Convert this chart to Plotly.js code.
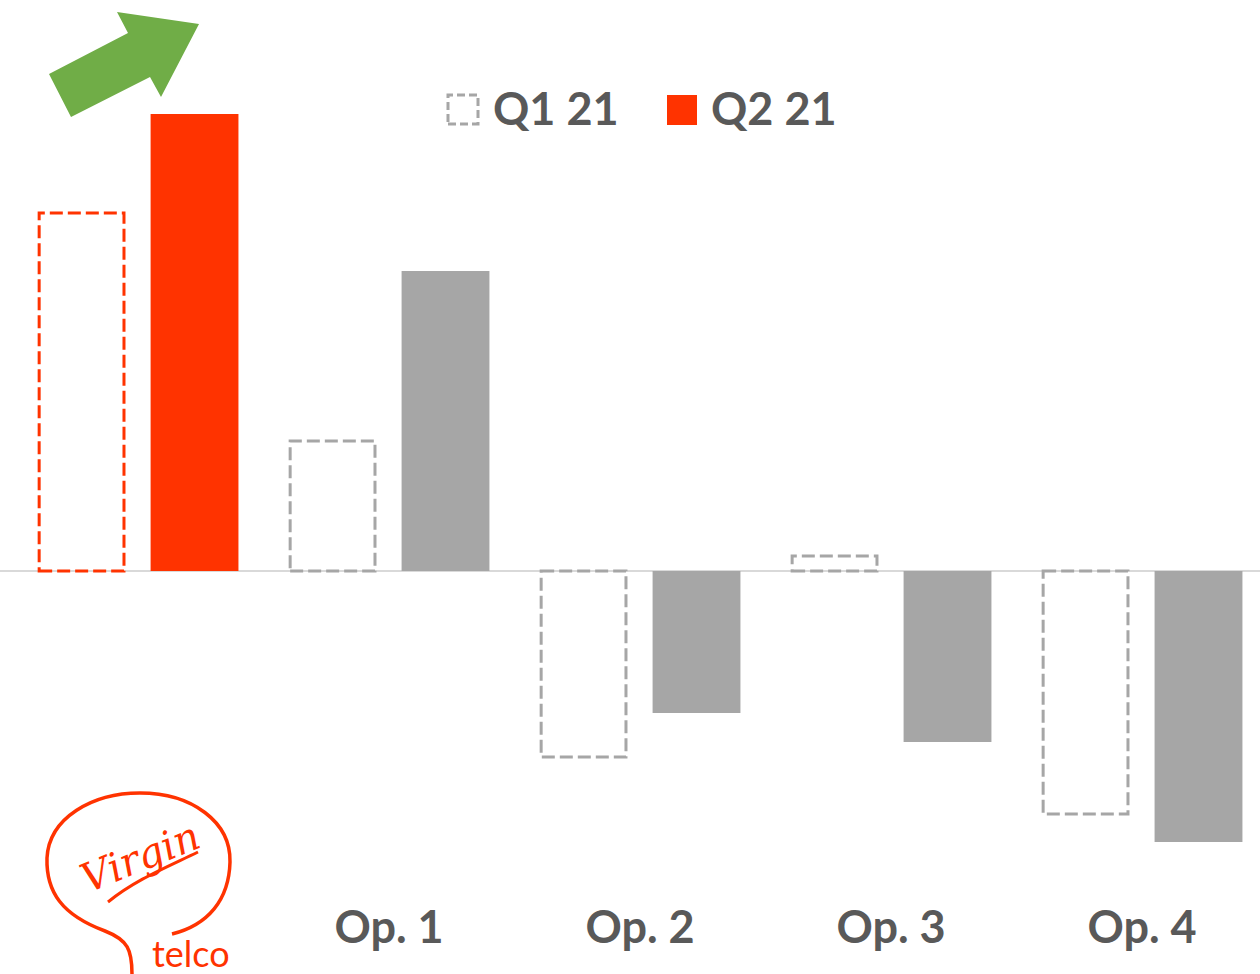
<!DOCTYPE html>
<html>
<head>
<meta charset="utf-8">
<script src="https://cdn.plot.ly/plotly-3.0.1.min.js"></script>
<style>
  html, body { margin: 0; padding: 0; background: #ffffff; }
  #chart { width: 1260px; height: 974px; }
</style>
</head>
<body>
<div id="chart"></div>
<script>
// ---- Data (arbitrary units) ----
const categories = ["Virgin telco", "Op. 1", "Op. 2", "Op. 3", "Op. 4"];
const tickLabels = ["", "Op. 1", "Op. 2", "Op. 3", "Op. 4"];
const q1Values = [358, 130, -186, 15, -243];
const q2Values = [457, 300, -142, -171, -271];
const seriesNames = ["Q1 21", "Q2 21"];

// ---- Styling ----
const RED = "#FF3300";
const GRAY = "#A6A6A6";
const TEXT = "#595959";
const W = 1260, H = 974;
const M = { l: 0, r: 0, t: 0, b: 77 };
const plotH = H - M.t - M.b;

// pixel -> paper helpers for decorations
const px = x => (x - M.l) / (W - M.l - M.r);
const py = y => 1 - (y - M.t) / plotH;
const P = (x, y) => px(x).toFixed(5) + "," + py(y).toFixed(5);

const xIdx = categories.map((c, i) => i);
const barW = 0.35;

const traces = [
  {
    type: "bar", name: seriesNames[0], x: xIdx, y: q1Values,
    width: barW, offset: -0.4,
    marker: { color: "rgba(0,0,0,0)" },
    customdata: categories, textposition: "none",
    hovertemplate: "%{customdata}<br>Q1 21: %{y}<extra></extra>",
    showlegend: false
  },
  {
    type: "bar", name: seriesNames[1], x: xIdx, y: q2Values,
    width: barW, offset: 0.05,
    marker: { color: xIdx.map(i => i === 0 ? RED : GRAY) },
    customdata: categories, textposition: "none",
    hovertemplate: "%{customdata}<br>Q2 21: %{y}<extra></extra>",
    showlegend: false
  }
];

// dashed outlines for Q1 bars, placed through the data axes
const shapes = q1Values.map((v, i) => ({
  type: "rect", xref: "x", yref: "y",
  x0: i - 0.4 + 0.006, x1: i - 0.05 - 0.006, y0: 0, y1: v,
  line: { color: i === 0 ? RED : GRAY, width: 3, dash: "13px,5px" },
  fillcolor: "rgba(0,0,0,0)", layer: "above"
}));

// green arrow
shapes.push({
  type: "path", xref: "paper", yref: "paper",
  path: "M" + P(49, 74) + " L" + P(71, 117) + " L" + P(150, 77) + " L" + P(161, 97) +
        " L" + P(199, 24) + " L" + P(117, 12) + " L" + P(128, 33) + " Z",
  fillcolor: "#70AD47", line: { width: 0 }, layer: "above"
});

// legend symbols
shapes.push({
  type: "rect", xref: "paper", yref: "paper",
  x0: px(448), x1: px(478), y0: py(124), y1: py(95),
  line: { color: GRAY, width: 3, dash: "8px,4px" }, fillcolor: "rgba(0,0,0,0)"
});
shapes.push({
  type: "rect", xref: "paper", yref: "paper",
  x0: px(667), x1: px(697), y0: py(125), y1: py(95),
  line: { width: 0 }, fillcolor: RED
});

// logo loop
shapes.push({
  type: "path", xref: "paper", yref: "paper",
  path: "M" + P(132, 974) + " C" + P(132, 950) + " " + P(128, 940) + " " + P(105, 931) +
        " C" + P(62, 915) + " " + P(46, 892) + " " + P(47, 858) +
        " C" + P(49, 818) + " " + P(92, 793) + " " + P(140, 793) +
        " C" + P(192, 793) + " " + P(231, 822) + " " + P(230, 862) +
        " C" + P(229, 900) + " " + P(208, 925) + " " + P(172, 934),
  line: { color: RED, width: 3.5 }, fillcolor: "rgba(0,0,0,0)"
});
// swoosh under "Virgin"
shapes.push({
  type: "path", xref: "paper", yref: "paper",
  path: "M" + P(108, 902) + " C" + P(135, 880) + " " + P(165, 868) + " " + P(198, 852),
  line: { color: RED, width: 3 }, fillcolor: "rgba(0,0,0,0)"
});

const annotations = [
  {
    xref: "paper", yref: "paper", x: px(492), y: py(108), xanchor: "left", yanchor: "middle",
    text: "<b>" + seriesNames[0] + "</b>", showarrow: false, borderpad: 0,
    font: { family: "Lato, Calibri, sans-serif", size: 45, color: TEXT }
  },
  {
    xref: "paper", yref: "paper", x: px(710), y: py(108), xanchor: "left", yanchor: "middle",
    text: "<b>" + seriesNames[1] + "</b>", showarrow: false, borderpad: 0,
    font: { family: "Lato, Calibri, sans-serif", size: 45, color: TEXT }
  },
  {
    xref: "paper", yref: "paper", x: px(140), y: py(857), xanchor: "center", yanchor: "middle",
    text: "<i>Virgin</i>", showarrow: false, textangle: -22, borderpad: 0,
    font: { family: "DejaVu Serif, serif", size: 40, color: RED }
  },
  {
    xref: "paper", yref: "paper", x: px(151), y: py(953), xanchor: "left", yanchor: "middle",
    text: "telco", showarrow: false, borderpad: 0,
    font: { family: "Lato, sans-serif", size: 36, color: RED }
  }
];

const layout = {
  width: W, height: H,
  margin: M,
  paper_bgcolor: "#ffffff", plot_bgcolor: "#ffffff",
  showlegend: false,
  barmode: "overlay",
  xaxis: {
    type: "linear", range: [-0.55, 4.47],
    tickvals: xIdx, ticktext: tickLabels,
    showgrid: false, zeroline: false, showline: false, ticks: "",
    tickfont: { family: "Lato, Calibri, sans-serif", size: 45, color: TEXT, weight: "bold" },
    fixedrange: true
  },
  yaxis: {
    range: [-326, 571],
    showgrid: false, showticklabels: false, ticks: "",
    zeroline: true, zerolinecolor: "#D9D9D9", zerolinewidth: 2,
    fixedrange: true
  },
  shapes: shapes,
  annotations: annotations
};

Plotly.newPlot("chart", traces, layout, { displayModeBar: false });
</script>
</body>
</html>
